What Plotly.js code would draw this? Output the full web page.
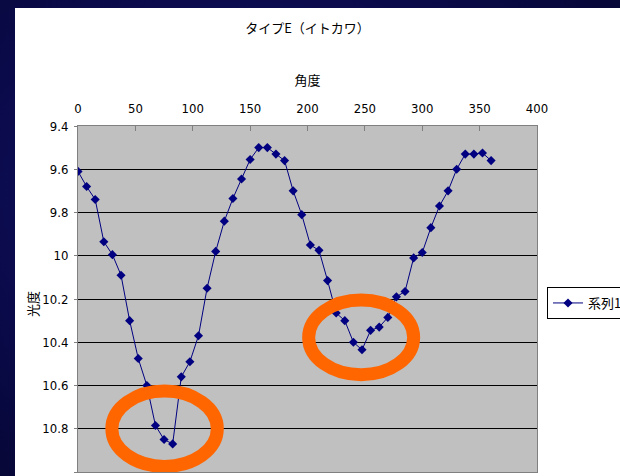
<!DOCTYPE html>
<html>
<head>
<meta charset="utf-8">
<script src="https://cdn.plot.ly/plotly-3.0.1.min.js"></script>
<style>
  html, body { margin: 0; padding: 0; width: 620px; height: 476px; overflow: hidden;
    background: radial-gradient(ellipse at 40% 40%, #12126a 0%, #0a0a4a 55%, #05052e 100%); }
  #chart { position: absolute; left: 15px; top: 8px; width: 605px; height: 468px; }
</style>
</head>
<body>
<div id="chart"></div>
<script>
// --- data ---
const chartTitle = 'タイプE（イトカワ）';
const xTitle = '角度';
const yTitle = '光度';
const seriesName = '系列1';

const angle = [0, 7.5, 15, 22.5, 30, 37.5, 45, 52.5, 60, 67.5, 75, 82.5, 90, 97.5,
  105, 112.5, 120, 127.5, 135, 142.5, 150, 157.5, 165, 172.5, 180, 187.5, 195,
  202.5, 210, 217.5, 225, 232.5, 240, 247.5, 255, 262.5, 270, 277.5, 285, 292.5,
  300, 307.5, 315, 322.5, 330, 337.5, 345, 352.5, 360];

const magnitude = [9.61, 9.68, 9.74, 9.935, 9.995, 10.09, 10.30, 10.475, 10.60, 10.785,
  10.85, 10.87, 10.56, 10.49, 10.37, 10.15, 9.98, 9.84, 9.735, 9.645, 9.555, 9.50,
  9.50, 9.53, 9.56, 9.70, 9.81, 9.95, 9.975, 10.115, 10.265, 10.30, 10.40, 10.435,
  10.345, 10.33, 10.285, 10.19, 10.165, 10.01, 9.985, 9.87, 9.77, 9.70, 9.60, 9.53,
  9.53, 9.525, 9.56];

// highlight rings (data coordinates: [x0, x1, y0, y1])
const ring1 = [29.5, 121.4, 10.626, 10.974];
const ring2 = [201.0, 292.5, 10.205, 10.550];

const xTickVals = [0, 50, 100, 150, 200, 250, 300, 350, 400];
const yTickVals = [9.4, 9.6, 9.8, 10, 10.2, 10.4, 10.6, 10.8, 11];

const tickFont = { family: '"Liberation Sans Narrow", "DejaVu Sans Condensed", Arial, sans-serif', size: 13, color: '#000' };
const jpFont = { family: '"Noto Sans CJK JP", sans-serif', size: 13, color: '#000' };

const trace = {
  x: angle, y: magnitude, name: seriesName, type: 'scatter', mode: 'lines+markers',
  line: { color: '#000080', width: 1 },
  marker: { symbol: 'diamond', size: 7, color: '#000080' }
};

function ring(r) {
  return { type: 'circle', xref: 'x', yref: 'y', x0: r[0], x1: r[1], y0: r[2], y1: r[3],
    line: { color: '#FF6600', width: 13 }, layer: 'above' };
}

const layout = {
  width: 605, height: 468,
  margin: { l: 63, r: 83, t: 118, b: 4, autoexpand: false },
  paper_bgcolor: '#ffffff', plot_bgcolor: '#c0c0c0',
  showlegend: true,
  title: { text: chartTitle, font: jpFont, x: 0.5, xref: 'paper', y: 1 - 20 / 468, yref: 'container', yanchor: 'middle' },
  xaxis: {
    side: 'top', range: [0, 400], tickvals: xTickVals, ticks: 'inside', ticklen: 5, tickcolor: '#808080',
    showgrid: false, zeroline: false, showline: true, mirror: true, linecolor: '#808080', linewidth: 1,
    tickfont: tickFont, ticklabelstandoff: 7,
    title: { text: xTitle, font: jpFont, standoff: 12 }
  },
  yaxis: {
    range: [11, 9.4], tickvals: yTickVals, ticktext: yTickVals.map(String), ticks: 'outside', ticklen: 3, tickcolor: '#808080',
    showgrid: true, gridcolor: '#000000', gridwidth: 1, zeroline: false,
    showline: true, mirror: true, linecolor: '#808080', linewidth: 1,
    tickfont: tickFont, ticklabelstandoff: 3
  },
  annotations: [{
    text: yTitle, textangle: -90, font: jpFont, showarrow: false,
    xref: 'paper', yref: 'paper', x: (32 - 78) / 459, y: 1 - (304 - 126) / 346,
    xanchor: 'center', yanchor: 'middle'
  }],
  legend: {
    xref: 'container', yref: 'container',
    x: (547 - 15) / 605, xanchor: 'left', y: 1 - (287 - 8) / 468, yanchor: 'top',
    bordercolor: '#000000', borderwidth: 1, bgcolor: '#ffffff',
    font: jpFont, itemwidth: 30
  },
  shapes: [ring(ring1), ring(ring2)]
};

Plotly.newPlot('chart', [trace], layout, { displayModeBar: false, staticPlot: true });
</script>
</body>
</html>
